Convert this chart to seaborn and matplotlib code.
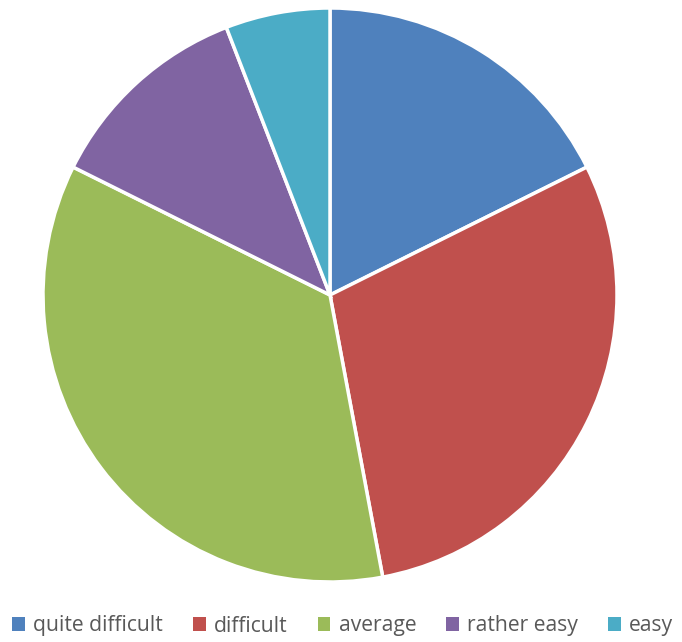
import matplotlib
matplotlib.use("Agg")
import matplotlib.pyplot as plt
import seaborn as sns
from matplotlib.patches import Patch

categories = ["quite difficult", "difficult", "average", "rather easy", "easy"]
counts = [6, 10, 12, 4, 2]
colors = ["#4F81BD", "#C0504D", "#9BBB59", "#8064A2", "#4BACC6"]

sns.set_theme(style="white")
plt.rcParams["font.family"] = ["Open Sans", "DejaVu Sans"]

W, H = 682, 642
fig = plt.figure(figsize=(W / 100, H / 100), dpi=100)
fig.patch.set_facecolor("white")

cx, cy, r = 330, 295, 287
ax = fig.add_axes([(cx - r) / W, (H - cy - r) / H, 2 * r / W, 2 * r / H])
ax.pie(counts, colors=colors, startangle=90, counterclock=False,
       radius=1.0, wedgeprops=dict(edgecolor="white", linewidth=2.5))
ax.set_xlim(-1, 1)
ax.set_ylim(-1, 1)
ax.set_aspect("equal")
ax.axis("off")

handles = [Patch(facecolor=c, edgecolor="none") for c in colors]
fig.legend(handles, categories, loc="center left",
           bbox_to_anchor=(12 / W, (H - 626) / H), ncol=5, frameon=False,
           borderpad=0, borderaxespad=0,
           handlelength=0.6, handleheight=0.6, handletextpad=0.4,
           columnspacing=1.42, fontsize=15.2, labelcolor="#595959")

fig.savefig("out.png", dpi=100, facecolor="white")
